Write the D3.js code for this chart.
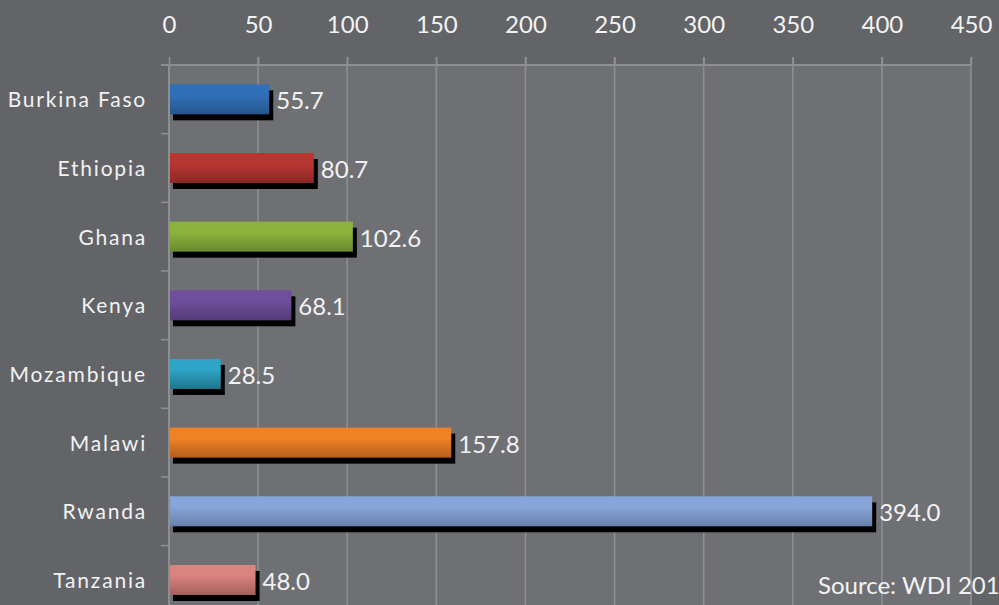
<!DOCTYPE html>
<html><head><meta charset="utf-8">
<script src="https://cdn.jsdelivr.net/npm/d3@7/dist/d3.min.js"></script>
<style>html,body{margin:0;padding:0;background:#636468;overflow:hidden}</style>
</head><body>
<svg id="chart" width="999" height="605"></svg>
<script>
const categories = ["Burkina Faso","Ethiopia","Ghana","Kenya","Mozambique","Malawi","Rwanda","Tanzania"];
const values = [55.7, 80.7, 102.6, 68.1, 28.5, 157.8, 394.0, 48.0];
const topColors = ["#3070b8","#b83632","#8db33d","#6f4f9c","#2ea5c6","#f08226","#87a5d8","#d9847f"];
const bottomColors = ["#27568c","#8c2725","#6a892d","#543b78","#20758d","#b65e1c","#6881ab","#a3615e"];
const xTicks = [0,50,100,150,200,250,300,350,400,450];
const sourceText = "Source: WDI 2010";

(function(){
const svg = d3.select("#chart");
const W = 999, H = 605;
const pLeft = 169, pRight = 971, pTop = 65, pBottom = 614.3;

svg.append("rect").attr("width", W).attr("height", H).attr("fill", "#636468");
svg.append("rect").attr("x", pLeft).attr("y", pTop).attr("width", pRight-pLeft).attr("height", H-pTop).attr("fill", "#6f7074");

const x = d3.scaleLinear().domain([0,450]).range([pLeft,pRight]);
const y = d3.scaleBand().domain(categories).range([pTop,pBottom]);

const defs = svg.append("defs");
categories.forEach((c,i)=>{
  const g = defs.append("linearGradient").attr("id","g"+i).attr("x1",0).attr("y1",0).attr("x2",0).attr("y2",1);
  g.append("stop").attr("offset","0%").attr("stop-color",topColors[i]);
  g.append("stop").attr("offset","35%").attr("stop-color",topColors[i]);
  g.append("stop").attr("offset","100%").attr("stop-color",bottomColors[i]);
});

// gridlines
svg.append("g").selectAll("line").data(xTicks.slice(1)).join("line")
  .attr("x1", d=>x(d)).attr("x2", d=>x(d)).attr("y1", 57).attr("y2", H)
  .attr("stroke", "#8d8e91").attr("stroke-width", 1.6);

// top axis
const xAxis = d3.axisTop(x).tickValues(xTicks).tickSize(8).tickPadding(24).tickFormat(d3.format("d"));
const gx = svg.append("g").attr("transform", `translate(0,${pTop})`).call(xAxis);
gx.select(".domain").attr("stroke","#8d8e91").attr("stroke-width",2).attr("d", `M161,0H${pRight}`);
gx.selectAll(".tick line").attr("stroke","#8d8e91").attr("stroke-width",1.6);
gx.selectAll(".tick text").attr("fill","#f2f2f2").style("font-family","Lato, sans-serif").style("font-size","24px");

// left axis line and ticks at band boundaries
svg.append("line").attr("x1",pLeft).attr("x2",pLeft).attr("y1",pTop).attr("y2",H).attr("stroke","#8d8e91").attr("stroke-width",2);
const bounds = categories.map(c=>y(c)).concat([pBottom]);
svg.append("g").selectAll("line").data(bounds).join("line")
  .attr("x1",161).attr("x2",pLeft).attr("y1",d=>d).attr("y2",d=>d)
  .attr("stroke","#8d8e91").attr("stroke-width",1.6);

const center = i => y(categories[i]) + y.bandwidth()/2;
const barH = 30;

// shadows
svg.append("g").selectAll("rect").data(values).join("rect")
  .attr("x", x(0)+4).attr("y", (d,i)=>center(i)-barH/2+6)
  .attr("width", d=>x(d)-x(0)+1).attr("height", barH).attr("fill","#000");

// bars
svg.append("g").selectAll("rect").data(values).join("rect")
  .attr("x", x(0)+1).attr("y", (d,i)=>center(i)-barH/2)
  .attr("width", d=>x(d)-x(0)).attr("height", barH).attr("fill",(d,i)=>`url(#g${i})`);

// value labels
svg.append("g").selectAll("text").data(values).join("text")
  .attr("x", d=>x(d)+8).attr("y",(d,i)=>center(i)+10)
  .attr("fill","#f2f2f2").style("font-family","Lato, sans-serif").style("font-size","24px")
  .text(d=>d3.format(".1f")(d));

// category labels
svg.append("g").selectAll("text").data(categories).join("text")
  .attr("x",147).attr("y",(d,i)=>center(i)+8).attr("text-anchor","end")
  .attr("fill","#f2f2f2").style("font-family","Lato, sans-serif").style("font-size","21px")
  .style("letter-spacing","1.8px")
  .text(d=>d);

// source
svg.append("text").attr("x",818).attr("y",594).attr("fill","#f2f2f2")
  .style("font-family","Lato, sans-serif").style("font-size","24px").text(sourceText);
})();
</script>
</body></html>
